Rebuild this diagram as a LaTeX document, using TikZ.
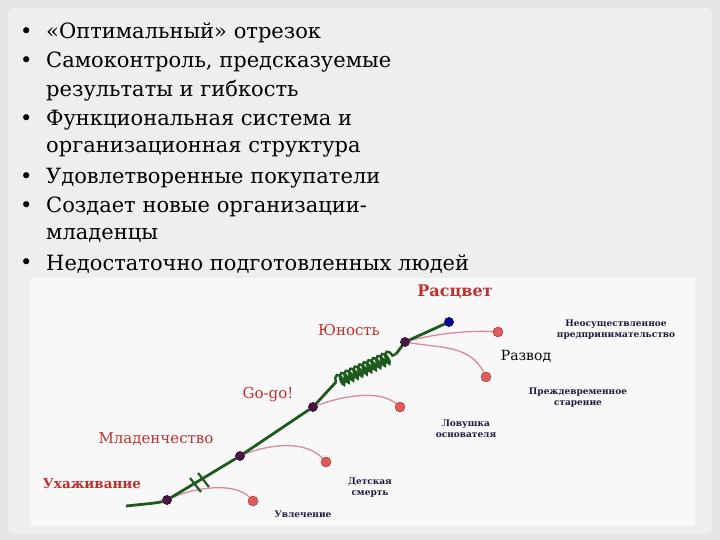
\documentclass[tikz,border=0pt]{standalone}
\usepackage{fontspec}
\setmainfont{Liberation Serif}
\newfontfamily\bulfont{DejaVu Serif}
\usetikzlibrary{decorations.pathmorphing}
\definecolor{bgc}{HTML}{E6E6E6}
\definecolor{panel}{HTML}{EEEEEE}
\definecolor{grn}{HTML}{1E5A1E}
\definecolor{pinkl}{HTML}{D98A9A}
\definecolor{redd}{HTML}{E25A5A}
\definecolor{purp}{HTML}{4A1446}
\definecolor{redt}{HTML}{C0302E}
\definecolor{navy}{HTML}{1C1C3C}
\begin{document}
\begin{tikzpicture}[x=1pt,y=-1pt,
  bul/.style={anchor=west,font=\bulfont\fontsize{21}{22}\selectfont,inner sep=0pt},
  stage/.style={font=\bulfont\fontsize{15}{17}\selectfont,text=redt},
  fail/.style={font=\bulfont\bfseries\fontsize{9}{11}\selectfont,text=navy,align=center},
  pnode/.style={circle,fill=purp,draw=purp!70!black,minimum size=9pt,inner sep=0pt},
  rnode/.style={circle,fill=redd,draw=redd!60!black,minimum size=10pt,inner sep=0pt},
  bnode/.style={circle,fill=blue!60!black,draw=blue!40!black,minimum size=9pt,inner sep=0pt},
  gline/.style={draw=grn,line width=2.8pt},
  pline/.style={draw=pinkl,line width=1.3pt}]
\useasboundingbox (0,0) rectangle (720,540);
\fill[bgc] (0,0) rectangle (720,540);
\fill[panel,rounded corners=6pt] (8,8) rectangle (712,534);
\fill[white!60!panel] (30,278) rectangle (695,526);
% bullets
\foreach \y/\t in {33/{«Оптимальный» отрезок},62/{Самоконтроль, предсказуемые},120/{Функциональная система и},178/{Удовлетворенные покупатели},207/{Создает новые организации-},264/{Недостаточно подготовленных людей}}{
  \node[bul] at (20,\y) {•};
  \node[bul] at (46,\y) {\t};}
\node[bul] (b2) at (46,91) {результаты и гибкость};
\node[bul] (b3) at (46,149) {организационная структура};
\node[bul] (b5) at (46,235) {младенцы};
% nodes
\coordinate (s0) at (126,506);
\node[pnode] (n1) at (167,500) {};
\node[pnode] (n2) at (240,456) {};
\node[pnode] (n3) at (313,407) {};
\node[pnode] (n4) at (405,342) {};
\node[bnode] (n5) at (449,322) {};
\coordinate (c1) at (336,382);
\coordinate (c2) at (396,354);
\node[rnode] (r1) at (253,501) {};
\node[rnode] (r2) at (326,462) {};
\node[rnode] (r3) at (400,407) {};
\node[rnode] (r4) at (498,332) {};
\node[rnode] (r5) at (486,377) {};
% pink lines
\draw[pline] (n1) .. controls (195,487) and (235,482) .. (r1);
\draw[pline] (n2) .. controls (270,444) and (305,440) .. (r2);
\draw[pline] (n3) .. controls (345,395) and (380,390) .. (r3);
\draw[pline] (n4) .. controls (430,335) and (465,330) .. (r4);
\draw[pline] (n4) .. controls (440,348) and (470,345) .. (r5);
% green line
\draw[gline] (s0) .. controls (145,504) and (158,503) .. (n1) -- (n2) -- (n3) -- (c1);
\draw[gline,line width=2.4pt,decorate,decoration={coil,aspect=0.4,segment length=5pt,amplitude=6pt}] (c1) -- (c2);
\draw[gline] (c2) -- (n4) -- (n5);
\draw[draw=grn,line width=2.2pt] (190,478) -- (201,492) (198,473) -- (209,487);
\foreach \n in {n1,n2,n3,n4} \node[pnode] at (\n) {};
\node[bnode] at (n5) {};
% labels
\node[font=\bulfont\bfseries\fontsize{16}{18}\selectfont,text=redt] (l0) at (455,292) {Расцвет};
\node[stage] (l1) at (349,330) {Юность};
\node[stage] (l2) at (268,395) {Go-go!};
\node[stage] (l3) at (156,439) {Младенчество};
\node[stage,font=\bulfont\bfseries\fontsize{13.5}{16}\selectfont] (l4) at (92,484) {Ухаживание};
\node[fail] (f1) at (616,330) {Неосуществленное\\предпринимательство};
\node[font=\bulfont\fontsize{14}{17}\selectfont] (f2) at (526,356) {Развод};
\node[fail] (f3) at (578,398) {Преждевременное\\старение};
\node[fail] (f4) at (466,429) {Ловушка\\основателя};
\node[fail] (f5) at (370,488) {Детская\\смерть};
\node[fail] (f6) at (303,514) {Увлечение};
\end{tikzpicture}
\end{document}
